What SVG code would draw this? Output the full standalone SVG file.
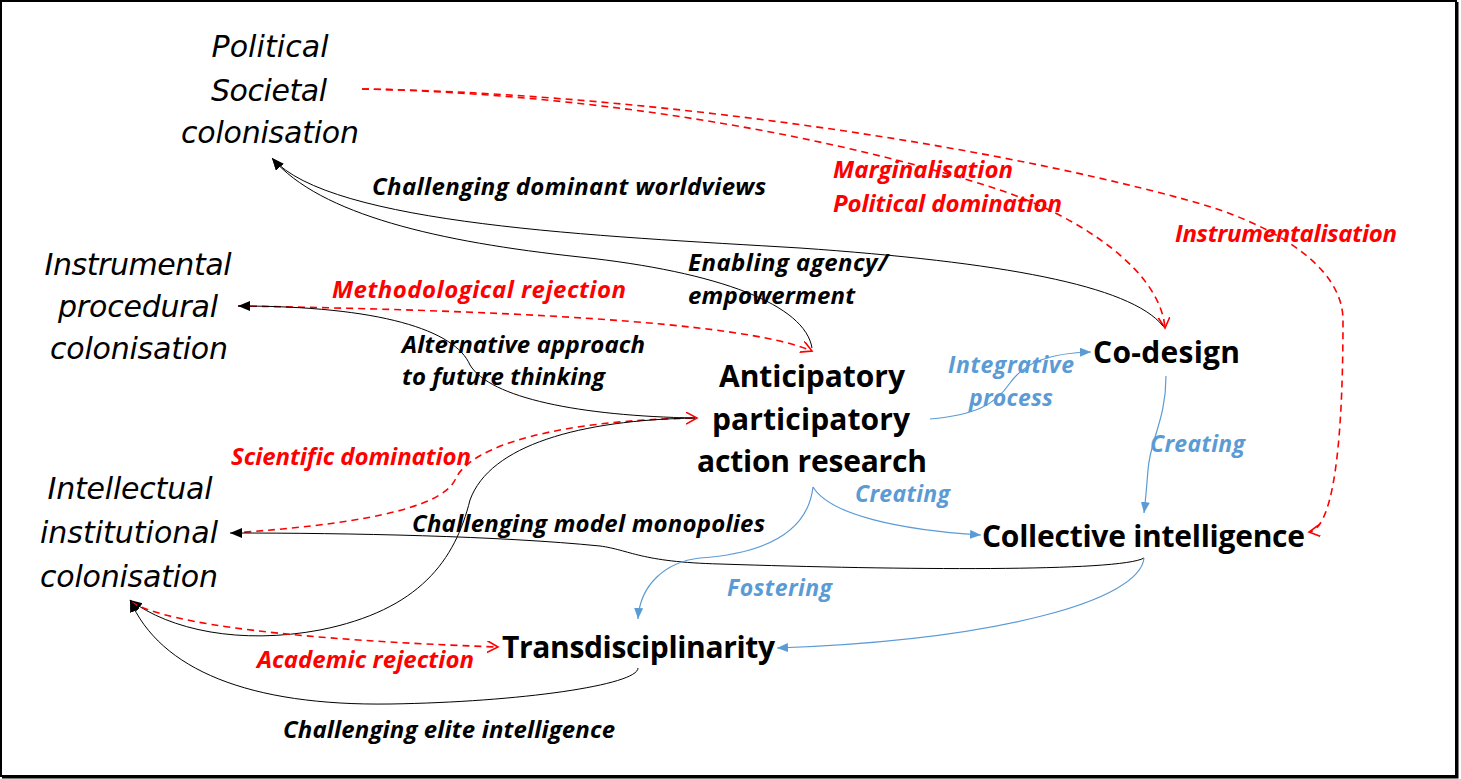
<svg xmlns="http://www.w3.org/2000/svg" width="1461" height="779" viewBox="0 0 1461 779">
<style>
.lbl{font-family:"DejaVu Sans",sans-serif;font-style:italic;font-size:30px;fill:#000;text-anchor:middle}
.node{font-family:"Open Sans",sans-serif;font-weight:bold;font-size:30px;fill:#000}
.ek{font-family:"Open Sans",sans-serif;font-weight:bold;font-style:italic;font-size:24px;fill:#000}
.er{font-family:"Open Sans",sans-serif;font-weight:bold;font-style:italic;font-size:24px;fill:#FF0000}
.eb{font-family:"Open Sans",sans-serif;font-weight:bold;font-style:italic;font-size:23px;fill:#5B9BD5}
.k{fill:none;stroke:#000;stroke-width:1}
.r{fill:none;stroke:#FF0000;stroke-width:1.6;stroke-dasharray:7 5}
.b{fill:none;stroke:#5B9BD5;stroke-width:1.2}
</style>
<defs>
<marker id="ak" markerUnits="userSpaceOnUse" markerWidth="14" markerHeight="12" refX="12" refY="5" orient="auto"><path d="M0,0 L12,5 L0,10 z" fill="#000"/></marker>
<marker id="ar" markerUnits="userSpaceOnUse" markerWidth="14" markerHeight="14" refX="11" refY="6" orient="auto"><path d="M0,0 L11,6 L0,12" fill="none" stroke="#FF0000" stroke-width="1.6"/></marker>
<marker id="ab" markerUnits="userSpaceOnUse" markerWidth="13" markerHeight="11" refX="11" refY="4.5" orient="auto"><path d="M0,0 L11,4.5 L0,9 z" fill="#5B9BD5"/></marker>
</defs>
<rect x="0" y="0" width="1461" height="779" fill="#fff"/>
<rect x="1" y="1" width="1455" height="775" fill="none" stroke="#000" stroke-width="2"/>
<path d="M1457.5,2 V777.5 H2" fill="none" stroke="#000" stroke-width="2"/>

<g id="connectors">
<path class="r" d="M362,89 C600,92 950,135 1187,200 C1270,222 1343,265 1343,320 C1343,410 1338,528 1309,532" marker-end="url(#ar)"/>
<path class="r" d="M362,89 C560,93 800,125 1000,190 C1080,217 1160,270 1165,328" marker-end="url(#ar)"/>
<path class="k" d="M1163,326 C1130,285 1000,262 800,248 C600,236 330,225 272,158" marker-end="url(#ak)"/>
<path class="k" d="M812,348 C805,305 720,272 580,257 C440,242 320,215 272,158" marker-end="url(#ak)"/>
<path class="r" d="M238,306 C480,310 740,320 812,351" marker-end="url(#ar)"/>
<path class="k" d="M695,418 C580,416 490,398 470,365 C455,330 380,306 238,306" marker-end="url(#ak)"/>
<path class="r" d="M232,533 C350,525 440,510 455,480 C470,445 560,420 697,418" marker-end="url(#ar)"/>
<path class="k" d="M1144,558 C1120,572 900,570 720,564 C640,562 630,550 600,546 C500,536 350,533 230,533" marker-end="url(#ak)"/>
<path class="k" d="M695,418 C580,420 490,445 470,500 C455,560 420,610 320,630 C240,645 170,630 130,600" marker-end="url(#ak)"/>
<path class="r" d="M131,602 C170,625 300,640 498,647" marker-end="url(#ar)"/>
<path class="k" d="M638,668 C638,685 520,702 390,704 C250,706 160,670 130,600" marker-end="url(#ak)"/>
<path class="b" d="M930,419 C975,415 995,405 1010,383 C1025,362 1050,353 1091,352" marker-end="url(#ab)"/>
<path class="b" d="M1166,376 C1166,420 1150,440 1148,470 C1146,495 1145,505 1144,513" marker-end="url(#ab)"/>
<path class="b" d="M813,487 C830,515 900,530 981,535" marker-end="url(#ab)"/>
<path class="b" d="M813,487 C808,530 770,553 700,558 C665,562 640,585 638,619" marker-end="url(#ab)"/>
<path class="b" d="M1144,558 C1140,600 1000,640 777,648" marker-end="url(#ab)"/>
</g>

<g id="political">
<text class="lbl" x="270" y="57" textLength="117">Political</text>
<text class="lbl" x="269" y="101" textLength="116">Societal</text>
<text class="lbl" x="270" y="143" textLength="178">colonisation</text>
</g>
<g id="instrumental">
<text class="lbl" x="138" y="275" textLength="187">Instrumental</text>
<text class="lbl" x="138" y="317" textLength="160">procedural</text>
<text class="lbl" x="139" y="359" textLength="178">colonisation</text>
</g>
<g id="intellectual">
<text class="lbl" x="130" y="499" textLength="165">Intellectual</text>
<text class="lbl" x="129" y="543" textLength="178">institutional</text>
<text class="lbl" x="129" y="587" textLength="178">colonisation</text>
</g>
<g id="apar">
<text class="node" x="719" y="387" textLength="186">Anticipatory</text>
<text class="node" x="712" y="430" textLength="198">participatory</text>
<text class="node" x="697" y="472" textLength="230">action research</text>
</g>
<g id="codesign"><text class="node" x="1093" y="363" textLength="147">Co-design</text></g>
<g id="collective"><text class="node" x="982" y="547" textLength="323">Collective intelligence</text></g>
<g id="transdisciplinarity"><text class="node" x="502" y="658" textLength="273">Transdisciplinarity</text></g>

<g id="edge-labels">
<text class="ek" x="372" y="195" textLength="394">Challenging  dominant  worldviews</text>
<text class="ek" x="688" y="271" textLength="200">Enabling agency/</text>
<text class="ek" x="688" y="304" textLength="167">empowerment</text>
<text class="ek" x="402" y="353" textLength="243">Alternative approach</text>
<text class="ek" x="402" y="385" textLength="203">to future thinking</text>
<text class="ek" x="412" y="532" textLength="353">Challenging model monopolies</text>
<text class="ek" x="283" y="738" textLength="332">Challenging elite intelligence</text>
<text class="er" x="833" y="178" textLength="180">Marginalisation</text>
<text class="er" x="833" y="212" textLength="229">Political domination</text>
<text class="er" x="1175" y="242" textLength="222">Instrumentalisation</text>
<text class="er" x="332" y="298" textLength="294">Methodological  rejection</text>
<text class="er" x="231" y="465" textLength="240">Scientific domination</text>
<text class="er" x="257" y="668" textLength="217">Academic rejection</text>
<text class="eb" x="948" y="373" textLength="126">Integrative</text>
<text class="eb" x="969" y="406" textLength="84">process</text>
<text class="eb" x="1150" y="452" textLength="95">Creating</text>
<text class="eb" x="855" y="502" textLength="95">Creating</text>
<text class="eb" x="727" y="596" textLength="105">Fostering</text>
</g>
</svg>
